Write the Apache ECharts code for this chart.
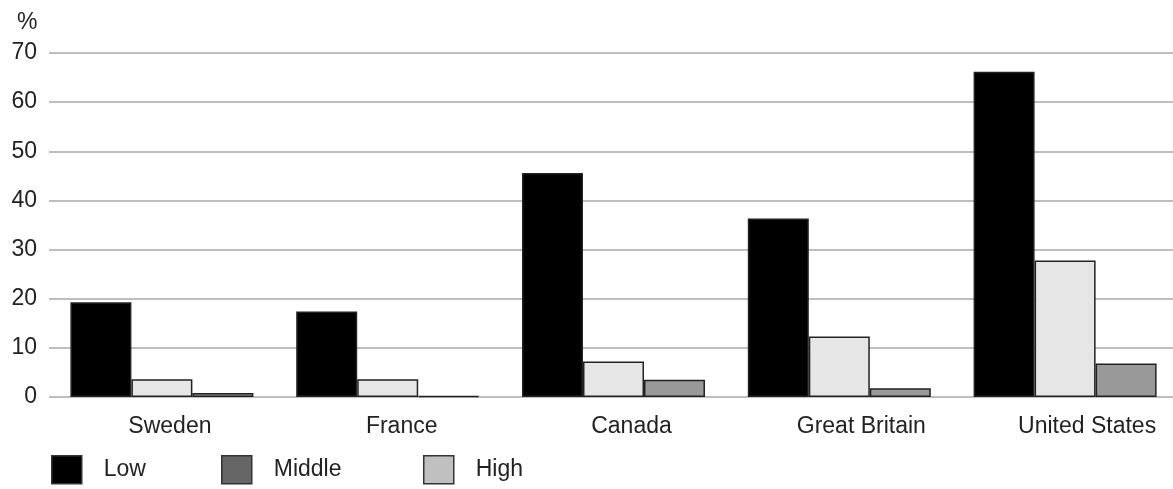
<!DOCTYPE html>
<html>
<head>
<meta charset="utf-8">
<script src="https://cdn.jsdelivr.net/npm/echarts@6/dist/echarts.min.js"></script>
<style>html,body{margin:0;padding:0;background:#fff;overflow:hidden}#c{width:1179px;height:489px}</style>
</head>
<body>
<div id="c"></div>
<script>
const categories = ['Sweden', 'France', 'Canada', 'Great Britain', 'United States'];
const seriesNames = ['Low', 'Middle', 'High'];
const lowValues = [19.3, 17.4, 45.6, 36.3, 66.2];
const middleValues = [3.6, 3.6, 7.2, 12.3, 27.8];
const highValues = [0.8, 0.2, 3.5, 1.8, 6.8];
const yTicks = [0, 10, 20, 30, 40, 50, 60, 70];

// layout / style constants
const labelShift = [8, 14, 18, 22, 22];
const barColors = ['#000000', '#e6e6e6', '#999999'];
const legendColors = ['#000000', '#666666', '#c0c0c0'];
const legendLeft = [51, 221, 423];
const FONT = '"Liberation Sans", Arial, sans-serif';

const rich = {};
labelShift.forEach((s, i) => { rich['l' + i] = { padding: [0, 0, 0, 2 * s], fontSize: 23, fontFamily: FONT, color: '#222' }; });

const values = [lowValues, middleValues, highValues];
const chart = echarts.init(document.getElementById('c'));
chart.setOption({
  animation: false,
  backgroundColor: '#fff',
  title: { text: '%', left: 12, top: 6, textStyle: { fontSize: 23, fontWeight: 'normal', color: '#222', fontFamily: FONT } },
  grid: { left: 49, right: 1, top: 53, bottom: 92, containLabel: false },
  legend: seriesNames.map((n, i) => ({
    data: [{ name: n, icon: 'rect', itemStyle: { color: legendColors[i], borderColor: '#333', borderWidth: 1.5 } }],
    left: legendLeft[i], top: 455, itemWidth: 30, itemHeight: 28, padding: 0,
    selectedMode: false,
    textStyle: { fontSize: 23, color: '#222', fontFamily: FONT, padding: [2, 0, 0, 17] }
  })),
  xAxis: {
    type: 'category', data: categories,
    axisLine: { show: false }, axisTick: { show: false },
    axisLabel: {
      interval: 0, margin: 18,
      formatter: (v, i) => '{l' + i + '|' + v + '}',
      rich: rich
    }
  },
  yAxis: {
    type: 'value', min: 0, max: 70, interval: 10,
    axisLine: { show: false }, axisTick: { show: false },
    axisLabel: { fontSize: 23, color: '#222', fontFamily: FONT, margin: 12,
      formatter: v => yTicks.includes(v) ? String(v) : '' },
    splitLine: { lineStyle: { color: '#a8a8a8', width: 1.5 } }
  },
  series: seriesNames.map((n, i) => ({
    name: n, type: 'bar', data: values[i],
    barWidth: 61, barGap: '0%',
    itemStyle: { color: barColors[i], borderColor: '#222', borderWidth: 1.5 }
  }))
});
</script>
</body>
</html>
